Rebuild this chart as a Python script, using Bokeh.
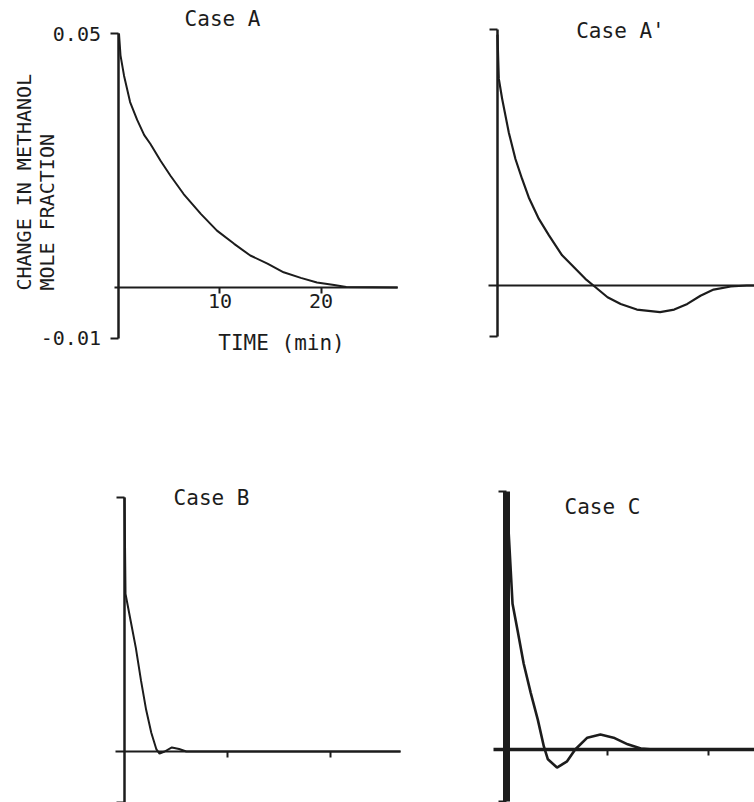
import math
from bokeh.plotting import figure
from bokeh.models import LinearAxis, FixedTicker, Label, Range1d
from bokeh.layouts import column, row
from bokeh.embed import file_html
from bokeh.resources import INLINE

# ---------------- data ----------------
# Case A
a_time = [0, 0.15, 0.5, 1.1, 1.8, 2.5, 3.1, 4.1, 5.1, 6.4, 8.1, 9.7, 11.4,
          13.0, 14.7, 16.3, 18.0, 19.6, 21.3, 22.5, 27.6]
a_value = [0.050, 0.0457, 0.0417, 0.0365, 0.0330, 0.0300, 0.0283, 0.0250,
           0.0220, 0.0184, 0.0145, 0.0112, 0.0086, 0.0063, 0.0047, 0.0030,
           0.0019, 0.0010, 0.0005, 0.0001, 0.0]
# Case A'
ap_time = [0, 0.13, 0.46, 1.12, 1.78, 2.44, 3.1, 4.1, 5.1, 6.4, 7.7, 8.7,
           9.5, 10.9, 12.2, 13.8, 16.1, 17.5, 18.8, 20.1, 21.4, 23.1, 24.7,
           25.5]
ap_value = [0.049, 0.0404, 0.0365, 0.0299, 0.0247, 0.0208, 0.0172, 0.0130,
            0.0098, 0.0059, 0.0033, 0.0013, 0.0, -0.0023, -0.0036, -0.0047,
            -0.0052, -0.0047, -0.0036, -0.0020, -0.0008, -0.0002, 0.0, 0.0]
# Case B
b_time = [0, 0.1, 0.6, 1.1, 1.6, 2.1, 2.6, 3.1, 3.4, 3.9, 4.6, 5.3, 6.0, 26.8]
b_value = [0.050, 0.031, 0.0257, 0.0204, 0.0140, 0.0082, 0.0037, 0.0004,
           -0.0004, 0.0, 0.0008, 0.0005, 0.0, 0.0]
# Case C
c_time = [0, 0.6, 1.1, 1.7, 2.4, 3.1, 3.7, 4.1, 5.0, 6.0, 6.8, 8.0, 9.3,
          10.6, 12.0, 13.3, 14.5, 24.5]
c_value = [0.050, 0.0283, 0.0231, 0.0167, 0.0110, 0.0058, 0.0006, -0.0019,
           -0.0035, -0.0023, 0.0, 0.0023, 0.0029, 0.0023, 0.0010, 0.0002,
           0.0, 0.0]

x_ticks = [10, 20]
x_tick_labels = {10: "10", 20: "20"}
y_ticks = [-0.01, 0.05]
y_tick_labels = {0.05: "0.05", -0.01: "-0.01"}
titles = ["Case A", "Case A'", "Case B", "Case C"]
y_title = ["CHANGE IN METHANOL", "MOLE FRACTION"]
x_title = "TIME (min)"

FONT = "DejaVu Sans Mono"
INK = "#1c1c1c"


def panel(w, h, xr, yr):
    p = figure(width=w, height=h, x_range=Range1d(*xr), y_range=Range1d(*yr),
               output_backend="svg", toolbar_location=None,
               x_axis_location=None, y_axis_location=None, min_border=0)
    p.outline_line_color = None
    p.grid.visible = False
    p.background_fill_color = "white"
    p.border_fill_color = "white"
    return p


def add_axes(p, xbounds, xticks, show_labels, ywidth=2.5, xwidth=2):
    yax = LinearAxis(fixed_location=0, bounds=(-0.01, 0.05),
                     ticker=FixedTicker(ticks=y_ticks),
                     major_tick_out=8, major_tick_in=0,
                     minor_tick_out=0, minor_tick_in=0,
                     axis_line_width=ywidth, axis_line_color=INK,
                     major_tick_line_width=2, major_tick_line_color=INK,
                     major_label_overrides=y_tick_labels,
                     major_label_standoff=10,
                     major_label_text_font=FONT,
                     major_label_text_font_size="20px",
                     major_label_text_color=INK if show_labels else None)
    p.add_layout(yax, "left")
    xax = LinearAxis(fixed_location=0, bounds=xbounds,
                     ticker=FixedTicker(ticks=xticks),
                     major_tick_out=6, major_tick_in=0,
                     minor_tick_out=0, minor_tick_in=0,
                     axis_line_width=xwidth, axis_line_color=INK,
                     major_tick_line_width=2, major_tick_line_color=INK,
                     major_label_overrides=x_tick_labels,
                     major_label_standoff=0,
                     major_label_text_font=FONT,
                     major_label_text_font_size="20px",
                     major_label_text_color=INK if show_labels else None)
    p.add_layout(xax, "below")


def title(p, text, x, y):
    p.add_layout(Label(x=x, y=y, text=text, text_font=FONT,
                       text_font_size="21px", text_color=INK,
                       text_align="center", text_baseline="middle"))


# ---------------- Case A ----------------
pA = panel(440, 420, (-11.73, 31.83), (-0.02618, 0.05650))
add_axes(pA, (-0.4, 27.6), x_ticks, True)
pA.line(a_time, a_value, line_width=2, line_color=INK)
title(pA, titles[0], 10.25, 0.0528)
pA.add_layout(Label(x=16.09, y=-0.0110, text=x_title, text_font=FONT,
                    text_font_size="21px", text_color=INK,
                    text_align="center", text_baseline="middle"))
for tx, txt in zip([-9.36, -7.08], y_title):
    pA.add_layout(Label(x=tx, y=-0.0006, text=txt, text_font=FONT,
                        text_font_size="20px", text_color=INK,
                        angle=math.pi / 2, angle_units="rad",
                        text_align="left", text_baseline="middle"))

# ---------------- Case A' ----------------
pAp = panel(314, 420, (-5.64, 25.45), (-0.02637, 0.05566))
add_axes(pAp, (-0.9, 25.45), [], False)
pAp.line(ap_time, ap_value, line_width=2.2, line_color=INK)
title(pAp, titles[1], 12.18, 0.0498)

# ---------------- Case B ----------------
pB = panel(440, 382, (-12.04, 30.68), (-0.01004, 0.06516))
add_axes(pB, (-0.9, 26.8), x_ticks, False)
pB.line(b_time, b_value, line_width=2, line_color=INK)
title(pB, titles[2], 8.45, 0.0500)

# ---------------- Case C ----------------
pC = panel(314, 382, (-6.53, 24.55), (-0.01029, 0.06388))
add_axes(pC, (-1.3, 24.55), x_ticks, False, ywidth=7, xwidth=3.5)
pC.line(c_time, c_value, line_width=2.6, line_color=INK)
title(pC, titles[3], 9.5, 0.0470)

layout = column(row(pA, pAp), row(pB, pC))
open("out.html", "w").write(file_html(layout, INLINE))
